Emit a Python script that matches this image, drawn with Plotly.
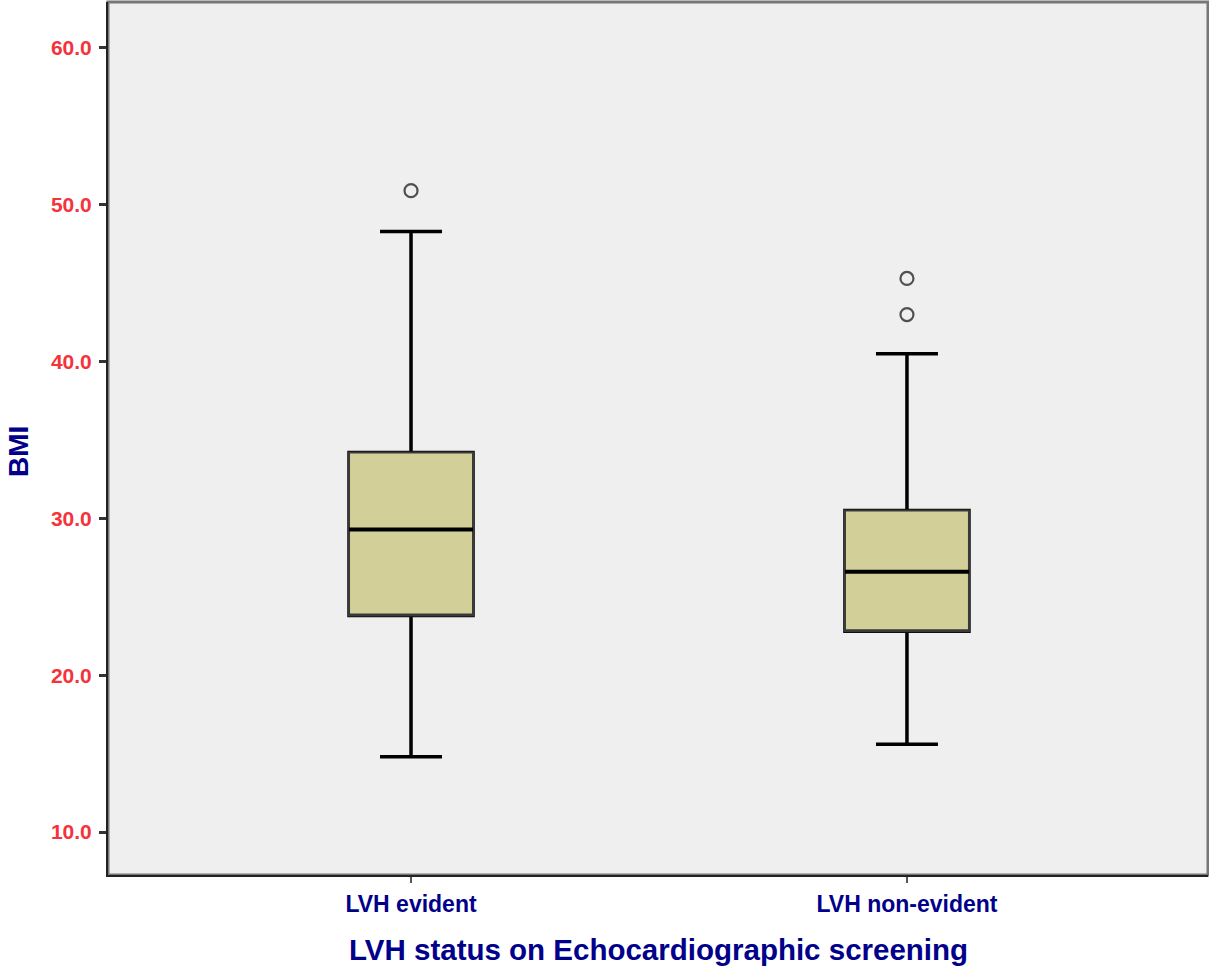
import plotly.graph_objects as go

categories = ["LVH evident", "LVH non-evident"]
lower_whisker = [14.8, 15.6]
q1_values = [23.8, 22.8]
median_values = [29.3, 26.6]
q3_values = [34.2, 30.5]
upper_whisker = [48.3, 40.5]

outlier_category = [0, 1, 1]
outlier_values = [50.9, 45.3, 43.0]

y_ticks = [10, 20, 30, 40, 50, 60]

xpos = list(range(len(categories)))
fill = "#d3cf99"
navy = "#00008b"
red = "#f4333c"
font = "Liberation Sans"

fig = go.Figure()

# Whiskers + thick frame
fig.add_trace(go.Box(
    x=xpos, q1=q1_values, median=median_values, q3=q3_values,
    lowerfence=lower_whisker, upperfence=upper_whisker,
    width=0.25, whiskerwidth=0.5, fillcolor=fill,
    line=dict(color="#000000", width=3.5), boxpoints=False,
    hoverinfo="skip", showlegend=False))
# Box body with thin border
fig.add_trace(go.Box(
    x=xpos, q1=q1_values, median=q1_values, q3=q3_values,
    lowerfence=q1_values, upperfence=q3_values,
    width=0.25, whiskerwidth=0.5, fillcolor=fill,
    line=dict(color="#3a3a3a", width=2), boxpoints=False,
    hoverinfo="skip", showlegend=False))
# Median line
fig.add_trace(go.Box(
    x=xpos, q1=median_values, median=median_values, q3=median_values,
    lowerfence=median_values, upperfence=median_values,
    width=0.25, whiskerwidth=0.5, fillcolor=fill,
    line=dict(color="#000000", width=4), boxpoints=False,
    hoverinfo="skip", showlegend=False))
# Outliers
fig.add_trace(go.Scatter(
    x=outlier_category, y=outlier_values, mode="markers",
    marker=dict(symbol="circle-open", size=13, color="#505050",
                line=dict(width=2.2, color="#505050")),
    hoverinfo="skip", showlegend=False))

fig.update_layout(
    width=1209, height=968,
    margin=dict(l=108, r=1, t=2, b=93),
    paper_bgcolor="white", plot_bgcolor="#efefef",
    boxmode="overlay",
    font=dict(family=font),
    xaxis=dict(
        range=[-0.611, 1.607], tickmode="array", tickvals=xpos, ticktext=categories,
        showgrid=False, zeroline=False, showline=True, linecolor="#222222", linewidth=2,
        ticks="outside", ticklen=6, tickwidth=2, tickcolor="#555555",
        tickfont=dict(family=font, size=23, color=navy, weight="bold"),
        ticklabelstandoff=1,
    ),
    yaxis=dict(
        range=[7.26, 62.93], tickmode="array", tickvals=y_ticks,
        ticktext=[f"{v:.1f}" for v in y_ticks],
        showgrid=False, zeroline=False, showline=True, linecolor="#222222", linewidth=2,
        ticks="outside", ticklen=7, tickwidth=3, tickcolor="#333333",
        tickfont=dict(family=font, size=21, color=red, weight="bold"),
        ticklabelstandoff=3,
    ),
    shapes=[dict(type="rect", xref="paper", yref="paper", x0=0, x1=1, y0=0, y1=1,
                 line=dict(color="#777777", width=3), layer="below")],
    annotations=[
        dict(text="LVH status on Echocardiographic screening", xref="paper", yref="paper",
             x=0.5, y=-0.0859, xanchor="center", yanchor="middle", showarrow=False,
             font=dict(family=font, size=29.5, color=navy, weight="bold")),
        dict(text="BMI", xref="paper", yref="paper", x=-0.0818, y=0.4845,
             xanchor="center", yanchor="middle", textangle=-90, showarrow=False,
             font=dict(family=font, size=28, color=navy, weight="bold")),
    ],
)

fig.write_html("out.html", config={"displayModeBar": False},
               post_script="document.body.style.margin='0';document.body.style.overflow='hidden';")
